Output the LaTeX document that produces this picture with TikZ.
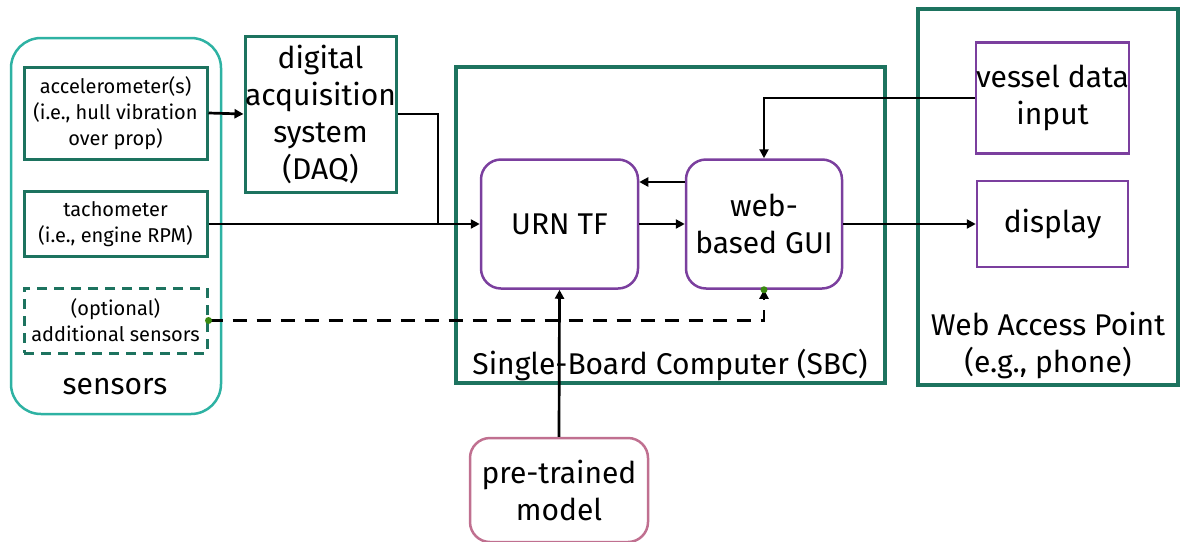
\documentclass[tikz,border=0pt]{standalone}
\usepackage{fontspec}
\setmainfont{Fira Sans}
\usetikzlibrary{arrows.meta,positioning}

\definecolor{sensorTeal}{HTML}{2EB2A3}
\definecolor{boxGreen}{HTML}{1D735F}
\definecolor{unitPurple}{HTML}{7B3F9E}
\definecolor{modelPink}{HTML}{C07090}
\definecolor{dotGreen}{HTML}{3A8A10}

\tikzset{
    smalltext/.style={font=\fontsize{10}{13}\selectfont, align=center},
    bigtext/.style={font=\fontsize{15}{18.5}\selectfont, align=center},
    sensorbox/.style={draw=boxGreen, line width=1.5pt, smalltext, inner sep=0pt},
    groupbox/.style={draw=boxGreen, line width=2pt, inner sep=0pt},
    unitbox/.style={draw=unitPurple, line width=1.25pt, rounded corners=10pt, bigtext, inner sep=0pt},
    phonebox/.style={draw=unitPurple, line width=1.25pt, bigtext, inner sep=0pt},
    wire/.style={line width=1.35pt, black},
    arrow/.style={wire, -{Triangle[length=4.5pt, width=4.5pt]}},
    endpoint/.style={circle, fill=dotGreen, inner sep=0pt, minimum size=3.5pt}
}

\begin{document}
\begin{tikzpicture}[x=0.5pt, y=-0.5pt]

    \useasboundingbox (0, 0) rectangle (1181, 541);

    % sensors
    \node[draw=sensorTeal, line width=1.25pt, rounded corners=15pt, minimum width=105pt, minimum height=188pt] (sensors) at (116, 226) {};
    \node[bigtext] (sensorsLabel) at (115, 387) {sensors};

    \node[sensorbox, minimum width=91.5pt, minimum height=46pt] (accel) at (115.5, 113) {accelerometer(s)\\(i.e., hull vibration\\over prop)};
    \node[sensorbox, minimum width=91.5pt, minimum height=32.5pt] (tacho) at (115.5, 224) {tachometer\\(i.e., engine RPM)};
    \node[sensorbox, dashed, dash pattern=on 5pt off 3.5pt, minimum width=91.5pt, minimum height=32.5pt] (extra) at (115.5, 320.5) {(optional)\\additional sensors};

    % acquisition
    \node[sensorbox, bigtext, minimum width=75.5pt, minimum height=78pt] (daq) at (320.5, 114) {digital\\acquisition\\system\\(DAQ)};

    % single-board computer
    \node[groupbox, minimum width=214.5pt, minimum height=158pt] (sbc) at (670.5, 225) {};
    \node[bigtext] (sbcLabel) at (670, 365) {Single-Board Computer (SBC)};

    \node[unitbox, minimum width=78.5pt, minimum height=64.5pt] (urn) at (559.5, 224) {URN TF};
    \node[unitbox, minimum width=78pt, minimum height=64.5pt] (gui) at (764, 224) {web-\\based GUI};

    % web access point
    \node[groupbox, minimum width=130pt, minimum height=188pt] (wap) at (1047.5, 196.5) {};
    \node[bigtext] (wapLabel) at (1048, 345) {Web Access Point\\(e.g., phone)};

    \node[phonebox, minimum width=75.5pt, minimum height=55.5pt] (vessel) at (1052.5, 98) {vessel data\\input};
    \node[phonebox, minimum width=75.5pt, minimum height=43pt] (display) at (1052.5, 224) {display};

    % model
    \node[unitbox, draw=modelPink, minimum width=89pt, minimum height=52pt] (model) at (559, 490) {pre-trained\\model};

    % connections
    \coordinate (merge) at (438, 224);
    \draw[arrow] (accel.east) -- (daq.west);
    \draw[wire] (daq.east) -| (merge);
    \draw[arrow] (tacho.east) -- (urn.west);
    \draw[arrow] (urn.east) -- (gui.west);
    \draw[arrow] ([yshift=21pt]gui.west) -- ([yshift=21pt]urn.east);
    \draw[arrow, line width=1.1pt] (vessel.west) -| (gui.north);
    \draw[arrow, line width=1.1pt] (gui.east) -- (display.west);
    \draw[arrow] (model.north) -- (urn.south);

    % optional sensors
    \draw[arrow, dashed, dash pattern=on 7pt off 5pt] (extra.east) -| (gui.south);
    \node[endpoint] (extraDot) at (extra.east) {};
    \node[endpoint] (guiDot) at (gui.south) {};

\end{tikzpicture}
\end{document}
